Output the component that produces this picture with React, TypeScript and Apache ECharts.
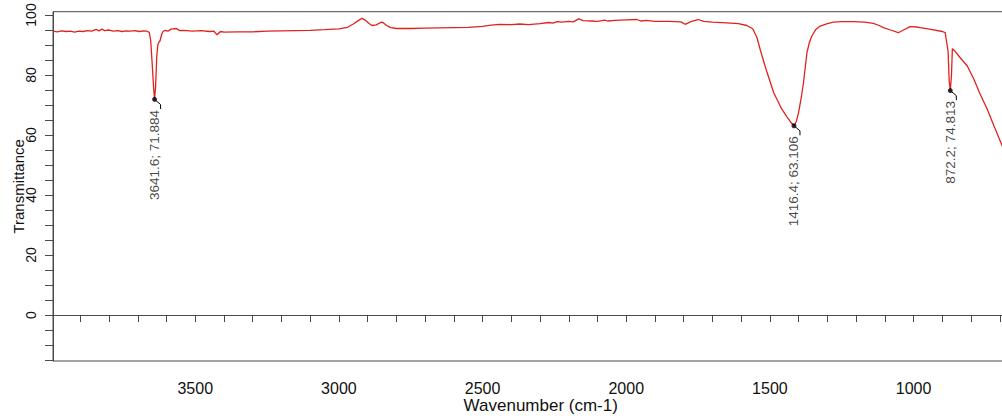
import React, { useEffect, useRef } from "react";
import * as echarts from "echarts";

// Spectrum: wavenumber (cm-1) and transmittance (%)
const WAVENUMBERS = [
  3995, 3980, 3965, 3950, 3935, 3920, 3905, 3890, 3875, 3860, 3845, 3835, 3825, 3815, 3800,
  3785, 3770, 3755, 3740, 3725, 3710, 3695, 3680, 3668, 3660, 3655, 3650, 3645, 3641.6, 3638,
  3634, 3630, 3626, 3622, 3617, 3612, 3605, 3595, 3585, 3565, 3555, 3540, 3510, 3480, 3450,
  3435, 3424, 3412, 3400, 3350, 3300, 3250, 3200, 3150, 3100, 3050, 3000, 2970, 2950, 2930,
  2920, 2910, 2895, 2885, 2870, 2855, 2848, 2835, 2820, 2800, 2750, 2700, 2650, 2600, 2550,
  2500, 2470, 2440, 2400, 2370, 2340, 2300, 2270, 2255, 2240, 2225, 2200, 2185, 2165, 2150,
  2120, 2100, 2075, 2065, 2040, 2000, 1963, 1950, 1930, 1900, 1850, 1810, 1795, 1775, 1750,
  1730, 1700, 1650, 1610, 1580, 1560, 1545, 1534, 1520, 1510, 1487, 1459, 1440, 1425, 1416.4,
  1408, 1400, 1390, 1383, 1371, 1362, 1354, 1340, 1325, 1300, 1279, 1250, 1209, 1170, 1140,
  1120, 1105, 1080, 1053, 1035, 1012, 990, 977, 940, 900, 890, 880, 876, 872.2, 868,
  865, 858, 840, 813, 790, 770, 744, 720, 692, 670,
];
const TRANSMITTANCE = [
  94.6, 94.4, 94.7, 94.5, 94.6, 94.3, 94.6, 94.5, 94.8, 94.6, 95.2, 94.7, 95.3, 94.8, 95.0,
  94.6, 94.8, 94.5, 94.7, 94.6, 94.8, 94.5, 94.7, 94.6, 94.2, 91.5, 84.0, 76.0, 71.884, 76.0,
  86.0, 90.2, 91.0, 91.5, 93.5, 94.5, 94.9, 94.6, 95.3, 95.5, 94.8, 94.9, 94.6, 94.8, 94.5,
  94.6, 93.4, 94.5, 94.3, 94.4, 94.4, 94.6, 94.7, 94.8, 94.9, 95.1, 95.4, 95.9, 97.0, 98.3,
  98.9, 98.4, 97.2, 96.5, 96.7, 97.5, 97.6, 96.6, 95.8, 95.5, 95.5, 95.6, 95.7, 95.8, 95.9,
  96.2, 96.6, 96.9, 96.8, 97.0, 96.8, 97.1, 97.5, 97.3, 97.8, 97.6, 97.9, 97.7, 98.7, 98.1,
  98.0, 97.9, 98.3, 98.0, 98.2, 98.4, 98.5, 98.0, 98.2, 97.9, 97.9, 97.7, 96.9, 97.8, 98.5,
  97.9, 97.6, 97.4, 97.1, 96.5, 95.4, 92.5, 88.6, 84.0, 80.9, 74.2, 68.7, 66.0, 64.0, 63.106,
  64.5, 67.6, 73.0, 77.5, 87.5, 91.0, 93.0, 95.2, 96.3, 97.1, 97.6, 97.8, 97.8, 97.6, 97.2,
  96.5, 95.8, 95.0, 94.1, 95.0, 96.1, 96.0, 95.8, 95.2, 94.5, 94.1, 88.0, 78.0, 74.813, 80.0,
  88.8, 88.2, 86.0, 83.0, 78.6, 74.0, 68.7, 63.0, 56.5, 52.0,
];

// Annotated peaks
const PEAK_X = [3641.6, 1416.4, 872.2];
const PEAK_Y = [71.884, 63.106, 74.813];

// Axis ticks and labels
const X_LABELS = [3500, 3000, 2500, 2000, 1500, 1000];
const X_TICKS = [
  3900, 3800, 3700, 3600, 3500, 3400, 3300, 3200, 3100, 3000, 2900, 2800, 2700, 2600, 2500,
  2400, 2300, 2200, 2100, 2000, 1900, 1800, 1700, 1600, 1500, 1400, 1300, 1200, 1100, 1000,
  900, 800, 700,
];
const Y_LABELS = [0, 20, 40, 60, 80, 100];
const Y_TICKS = [
  -15, -10, -5, 0, 5, 10, 15, 20, 25, 30, 35, 40, 45, 50, 55, 60, 65, 70, 75, 80, 85, 90,
  95, 100,
];

const FONT = "'Liberation Sans', Arial, sans-serif";
const AXIS_COLOR = "#4a4a4a";
const TEXT_COLOR = "#111";
// leader line offsets (data units) from a peak dot to its label
const LEADER_DX = -21;
const LEADER_DY1 = -1.7;
const LEADER_DY2 = -3.2;

export default function App() {
  const ref = useRef<HTMLDivElement>(null);

  useEffect(() => {
    document.body.style.margin = "0";
    if (!ref.current) return;
    const chart = echarts.init(ref.current, undefined, { renderer: "svg" });

    const spectrum = WAVENUMBERS.map((w, i) => [w, TRANSMITTANCE[i]]);
    const peaks = PEAK_X.map((w, i) => [w, PEAK_Y[i]]);

    const leaderSeries = PEAK_X.map((w, i) => ({
      type: "line" as const,
      data: [
        [w, PEAK_Y[i]],
        [w + LEADER_DX, PEAK_Y[i] + LEADER_DY1],
        [w + LEADER_DX, PEAK_Y[i] + LEADER_DY2],
      ],
      showSymbol: false,
      symbol: "none",
      lineStyle: { color: "#000", width: 1 },
      silent: true,
      z: 4,
    }));

    chart.setOption({
      animation: false,
      backgroundColor: "#fff",
      grid: {
        left: 53,
        top: 11.7,
        width: 975.5,
        height: 349.3,
        outerBoundsMode: "none",
        containLabel: false,
        show: true,
        borderColor: AXIS_COLOR,
        borderWidth: 1,
        backgroundColor: "transparent",
      },
      xAxis: {
        type: "value",
        inverse: true,
        min: 600,
        max: 3995,
        name: "Wavenumber (cm-1)",
        nameLocation: "middle",
        nameMoveOverlap: false,
        nameGap: 36,
        nameTextStyle: { fontFamily: FONT, fontSize: 17, color: TEXT_COLOR },
        axisLine: { show: true, lineStyle: { color: AXIS_COLOR, width: 1 } },
        axisTick: {
          show: true,
          length: 7,
          customValues: X_TICKS,
          lineStyle: { color: AXIS_COLOR, width: 1 },
        },
        axisLabel: {
          customValues: X_LABELS,
          formatter: (v: number) => String(v),
          fontFamily: FONT,
          fontSize: 16,
          color: TEXT_COLOR,
          margin: 19,
        },
        splitLine: { show: false },
      },
      yAxis: {
        type: "value",
        min: -15.3,
        max: 101.1,
        name: "Transmittance",
        nameLocation: "middle",
        nameMoveOverlap: false,
        nameGap: 27,
        nameTextStyle: { fontFamily: FONT, fontSize: 15, color: TEXT_COLOR },
        axisLine: { show: true, lineStyle: { color: AXIS_COLOR, width: 1 } },
        axisTick: {
          show: true,
          length: 8,
          customValues: Y_TICKS,
          lineStyle: { color: AXIS_COLOR, width: 1 },
        },
        axisLabel: {
          customValues: Y_LABELS,
          formatter: (v: number) => String(v),
          rotate: 90,
          fontFamily: FONT,
          fontSize: 14,
          color: TEXT_COLOR,
          margin: 15,
        },
        splitLine: { show: false },
      },
      series: [
        {
          type: "line",
          data: spectrum,
          showSymbol: false,
          symbol: "none",
          lineStyle: { color: "#e0221e", width: 1.3 },
          z: 3,
        },
        ...leaderSeries,
        {
          type: "scatter",
          data: peaks,
          symbol: "circle",
          symbolSize: 5,
          itemStyle: { color: "#000" },
          z: 5,
          label: {
            show: true,
            position: "bottom",
            distance: 8,
            rotate: 90,
            align: "right",
            verticalAlign: "middle",
            fontFamily: FONT,
            fontSize: 13.5,
            color: TEXT_COLOR,
            formatter: (p: any) =>
              `${Number(p.value[0]).toFixed(1)}; ${Number(p.value[1]).toFixed(3)}`,
          },
        },
      ],
    });

    return () => chart.dispose();
  }, []);

  return <div ref={ref} style={{ width: 1002, height: 416 }} />;
}
